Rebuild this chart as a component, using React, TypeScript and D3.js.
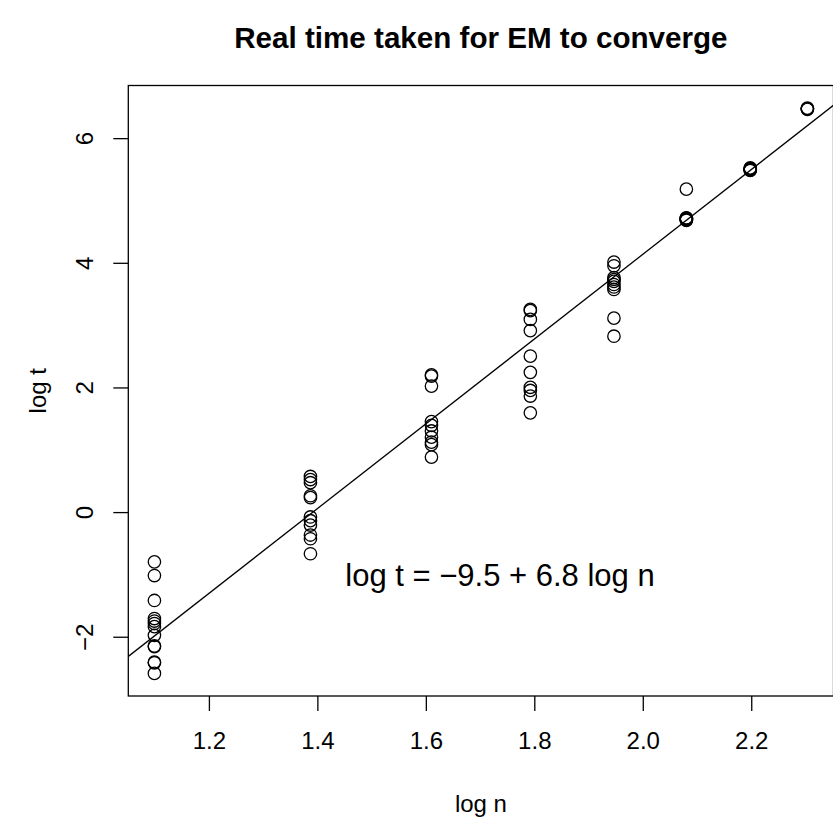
import React from "react";
import * as d3 from "d3";

// n = 3..10, plotted on the log scale
const nValues = [3, 4, 5, 6, 7, 8, 9, 10];

const logT3 = [-0.79, -1.01, -1.41, -1.70, -1.74, -1.78, -1.83, -1.97, -2.14, -2.15, -2.40, -2.41, -2.58];
const logT4 = [0.58, 0.53, 0.48, 0.27, 0.24, -0.07, -0.13, -0.2, -0.36, -0.42, -0.66];
const logT5 = [2.21, 2.19, 2.03, 1.46, 1.40, 1.31, 1.21, 1.13, 1.09, 0.89];
const logT6 = [3.26, 3.24, 3.10, 2.92, 2.51, 2.25, 2.01, 1.96, 1.87, 1.60];
const logT7 = [4.02, 3.96, 3.77, 3.74, 3.71, 3.66, 3.62, 3.58, 3.12, 2.83];
const logT8 = [5.19, 4.73, 4.72, 4.71, 4.70, 4.69, 4.72, 4.70, 4.71];
const logT9 = [5.52, 5.50, 5.51, 5.53, 5.49, 5.50];
const logT10 = [6.48, 6.47, 6.49, 6.48];

const groups = [logT3, logT4, logT5, logT6, logT7, logT8, logT9, logT10];

// fitted line
const intercept = -9.45;
const slope = 6.8;

const xTicks = [1.2, 1.4, 1.6, 1.8, 2.0, 2.2];
const yTicks = [-2, 0, 2, 4, 6];

const title = "Real time taken for EM to converge";
const xLabel = "log n";
const yLabel = "log t";
const fitLabel = "log t = \u22129.5 + 6.8 log n";

export default function App() {
  const width = 833;
  const height = 824;
  const left = 128.3;
  const right = 833.5;
  const top = 85.5;
  const bottom = 696;
  const font = "'Liberation Sans', Arial, Helvetica, sans-serif";

  const points = groups.flatMap((g, i) =>
    g.map((t) => ({ x: Math.log(nValues[i]), y: t }))
  );

  // R style 4% padding on both axes
  const xExt = d3.extent(points, (d) => d.x) as [number, number];
  const yExt = d3.extent(points, (d) => d.y) as [number, number];
  const xPad = (xExt[1] - xExt[0]) * 0.04;
  const yPad = (yExt[1] - yExt[0]) * 0.04;

  const x = d3.scaleLinear().domain([xExt[0] - xPad, xExt[1] + xPad]).range([left, right]);
  const y = d3.scaleLinear().domain([yExt[0] - yPad, yExt[1] + yPad]).range([bottom, top]);

  const [x0, x1] = x.domain();
  const fitLine = d3.line<number>()
    .x((d) => x(d))
    .y((d) => y(intercept + slope * d))([x0, x1]);

  const cx = (left + right) / 2;

  return (
    <svg width={width} height={height} style={{ position: "absolute", left: 0, top: 0, background: "#fff" }}
      fontFamily={font}>
      <defs>
        <clipPath id="plot-clip">
          <rect x={left} y={top} width={right - left} height={bottom - top} />
        </clipPath>
      </defs>

      <text x={cx} y={48} textAnchor="middle" fontSize={29.6} fontWeight="bold">{title}</text>

      {/* x axis */}
      <g>
        {xTicks.map((t) => (
          <g key={t}>
            <line x1={x(t)} x2={x(t)} y1={bottom} y2={bottom + 15} stroke="#000" strokeWidth={1.3} />
            <text x={x(t)} y={749} textAnchor="middle" fontSize={24}>{t.toFixed(1)}</text>
          </g>
        ))}
        <text x={cx} y={812} textAnchor="middle" fontSize={24}>{xLabel}</text>
      </g>

      {/* y axis */}
      <g>
        {yTicks.map((t) => (
          <g key={t}>
            <line x1={left - 15} x2={left} y1={y(t)} y2={y(t)} stroke="#000" strokeWidth={1.3} />
            <text transform={`translate(${left - 44},${y(t)}) rotate(-90)`} textAnchor="middle"
              dy="0.35em" fontSize={24}>{t < 0 ? "\u2212" + Math.abs(t) : t}</text>
          </g>
        ))}
        <text transform={`translate(38,${(top + bottom) / 2}) rotate(-90)`} textAnchor="middle"
          dy="0.35em" fontSize={24}>{yLabel}</text>
      </g>

      <g clipPath="url(#plot-clip)">
        <path d={fitLine ?? ""} fill="none" stroke="#000" strokeWidth={1.3} />
      </g>

      <g fill="none" stroke="#000" strokeWidth={1.3}>
        {points.map((d, i) => (
          <circle key={i} cx={x(d.x)} cy={y(d.y)} r={6.2} />
        ))}
      </g>

      <text x={500} y={586} textAnchor="middle" fontSize={31}>{fitLabel}</text>

      <rect x={left} y={top} width={right - left} height={bottom - top} fill="none" stroke="#000" strokeWidth={1.3} />
    </svg>
  );
}
